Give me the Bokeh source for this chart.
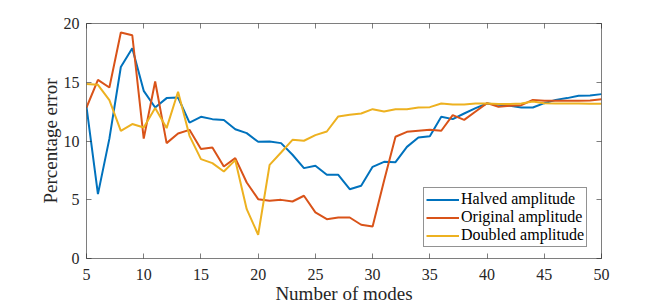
from bokeh.plotting import figure
from bokeh.models import LinearAxis, Legend, LegendItem, Range1d, FixedTicker
from bokeh.embed import file_html
from bokeh.resources import INLINE

modes = list(range(5, 51))
halved = [12.9, 5.48, 10.2, 16.3, 17.9, 14.27, 12.85, 13.65, 13.7, 11.57,
          12.06, 11.86, 11.78, 11.0, 10.67, 9.93, 9.96, 9.82, 8.83, 7.69,
          7.89, 7.12, 7.12, 5.9, 6.19, 7.8, 8.23, 8.2, 9.5, 10.3,
          10.4, 12.06, 11.86, 12.34, 12.8, 13.19, 13.08, 13.0, 12.85, 12.85,
          13.22, 13.5, 13.65, 13.85, 13.87, 13.99]
original = [12.85, 15.2, 14.55, 19.23, 19.0, 10.2, 15.06, 9.82, 10.64, 10.95,
            9.31, 9.45, 7.83, 8.54, 6.47, 5.05, 4.91, 4.99, 4.85, 5.34,
            3.92, 3.35, 3.49, 3.49, 2.87, 2.73, 6.61, 10.36, 10.78, 10.87,
            10.95, 10.87, 12.2, 11.8, 12.51, 13.22, 12.91, 13.0, 13.05, 13.5,
            13.42, 13.42, 13.42, 13.42, 13.45, 13.56]
doubled = [14.85, 14.78, 13.48, 10.87, 11.44, 11.15, 12.8, 11.1, 14.19, 10.44,
           8.46, 8.12, 7.4, 8.37, 4.2, 2.02, 7.97, 9.02, 10.1, 10.02,
           10.5, 10.81, 12.09, 12.23, 12.34, 12.71, 12.51, 12.71, 12.71, 12.85,
           12.88, 13.19, 13.11, 13.11, 13.19, 13.19, 13.14, 13.14, 13.19, 13.36,
           13.22, 13.19, 13.2, 13.2, 13.18, 13.17]
series_names = ["Halved amplitude", "Original amplitude", "Doubled amplitude"]
colors = ["#0072BD", "#D95319", "#EDB120"]
x_ticks = [5, 10, 15, 20, 25, 30, 35, 40, 45, 50]
y_ticks = [0, 5, 10, 15, 20]

FONT = "Liberation Serif"
AX = "#262626"

p = figure(width=664, height=308, output_backend="svg", toolbar_location=None,
           x_range=Range1d(5, 50), y_range=Range1d(0, 20),
           min_border_left=86, min_border_right=63, min_border_top=23, min_border_bottom=50,
           background_fill_color="white", border_fill_color="white")
p.outline_line_color = None
p.xgrid.visible = False
p.ygrid.visible = False

def style(ax, ticks, labels=True):
    ax.ticker = FixedTicker(ticks=ticks)
    ax.minor_tick_line_color = None
    ax.major_tick_in = 5
    ax.major_tick_out = 0
    ax.major_tick_line_color = AX
    ax.major_tick_line_width = 0.6
    ax.axis_line_color = AX
    ax.axis_line_width = 0.6
    ax.major_label_text_font = FONT
    ax.major_label_text_color = AX
    if labels:
        ax.major_label_text_font_size = "16px"
    else:
        ax.major_label_text_alpha = 0
        ax.major_label_text_font_size = "1px"
    ax.axis_label_text_font = FONT
    ax.axis_label_text_font_style = "normal"
    ax.axis_label_text_font_size = "19px"
    ax.axis_label_text_color = AX

style(p.xaxis[0], x_ticks)
style(p.yaxis[0], y_ticks)
p.xaxis[0].axis_label = "Number of modes"
p.yaxis[0].axis_label = "Percentage error"
p.xaxis[0].major_label_standoff = 10
p.yaxis[0].major_label_standoff = 7
p.xaxis[0].axis_label_standoff = 0
p.xaxis[0].axis_label_text_line_height = 0.9
p.yaxis[0].axis_label_standoff = 0

top = LinearAxis()
style(top, x_ticks, labels=False)
p.add_layout(top, "above")
right = LinearAxis()
style(right, y_ticks, labels=False)
p.add_layout(right, "right")

items = []
for name, ys, c in zip(series_names, [halved, original, doubled], colors):
    r = p.line(modes, ys, line_color=c, line_width=2)
    items.append(LegendItem(label=name, renderers=[r]))

legend = Legend(items=items, location=(337, 11))
legend.label_text_font = FONT
legend.label_text_font_size = "16px"
legend.label_text_color = "black"
legend.border_line_color = AX
legend.border_line_width = 0.6
legend.padding = 2
legend.spacing = 0
legend.margin = 0
legend.glyph_width = 33
legend.glyph_height = 17
legend.label_height = 17
legend.label_standoff = 2
legend.background_fill_alpha = 1
p.add_layout(legend, "center")

open("out.html", "w").write(file_html(p, INLINE))
